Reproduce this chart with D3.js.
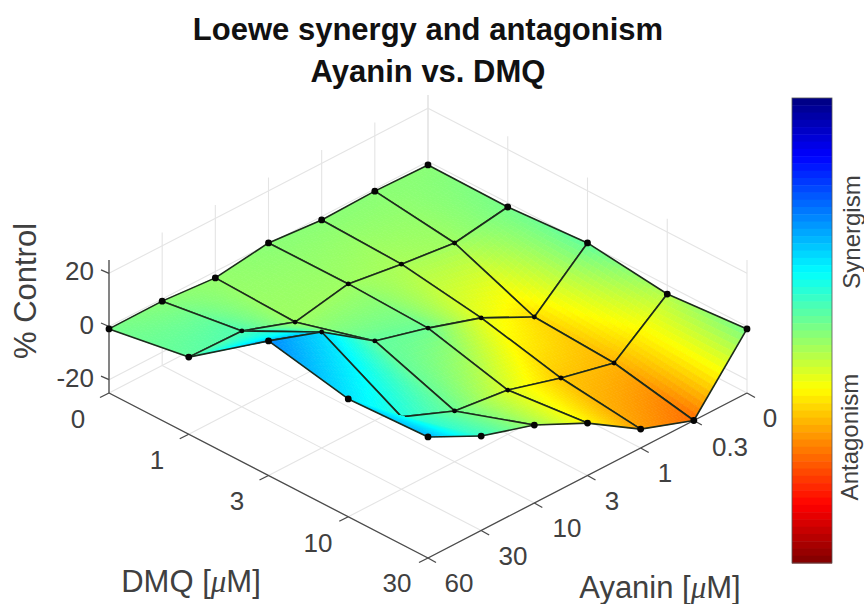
<!DOCTYPE html>
<html><head><meta charset="utf-8">
<script src="https://cdn.jsdelivr.net/npm/d3@7"></script>
<style>html,body{margin:0;padding:0;background:#fff}svg{display:block;font-family:"Liberation Sans",Arial,sans-serif}</style>
</head><body><svg id="c" width="864" height="604"></svg>
<script>
const titleLines = ["Loewe synergy and antagonism", "Ayanin vs. DMQ"];
const ayaninLabels = ["0", "0.3", "1", "3", "10", "30", "60"];
const dmqLabels = ["0", "1", "3", "10", "30"];
const zTicks = [-20, 0, 20];
const zDomain = [-25, 25];
// % Control, rows by Ayanin index, columns by DMQ index
const zRow0 = [-1.3, -1.6, 0.4, -3.3, -0.9];
const zRow1 = [-0.8, -4.8, -17.1, -18.9, -25];
const zRow2 = [-1.3, -2.4, -7.1, -14.2, -17.9];
const zRow3 = [0.4, 0.5, -0.6, -8.4, -5.3];
const zRow4 = [-2.4, -3.5, 4.9, -5.9, 4.3];
const zRow5 = [-0.8, 3.5, 18.6, 2.2, 10.5];
const zRow6 = [-0.9, 4, 25.6, 19.3, 20.5];
// synergy (+) / antagonism (-) shown by colour
const cRow0 = [-1, 1, 3, -5, 1];
const cRow1 = [-1, -3, -16, -20, -27];
const cRow2 = [-1, -4, -10, -18, -22];
const cRow3 = [-1, -3, 2, -9, -13];
const cRow4 = [-2, -3, 3, 2, -3];
const cRow5 = [-1, 5, 16, 9, 7];
const cRow6 = [1, 3, 24, 15, 20];
const Z = [zRow0, zRow1, zRow2, zRow3, zRow4, zRow5, zRow6];
const C = [cRow0, cRow1, cRow2, cRow3, cRow4, cRow5, cRow6];

const svg = d3.select("#c");
const nA = ayaninLabels.length, nD = dmqLabels.length;
const xD = d3.scaleLinear().domain([0, nD - 1]).range([0, 319]);
const xA = d3.scaleLinear().domain([0, nA - 1]).range([0, -319]);
const yD = d3.scaleLinear().domain([0, nD - 1]).range([0, 165]);
const yA = d3.scaleLinear().domain([0, nA - 1]).range([0, 165]);
const yZ = d3.scaleLinear().domain(zDomain).range([0, -133]);
const X0 = 428, Y0 = 228;
const proj = (a, d, z) => [X0 + xA(a) + xD(d), Y0 + yA(a) + yD(d) + yZ(z)];
const jetT = d3.scaleLinear().domain([-50, 50]).range([1, 0]);
const cl = v => Math.max(0, Math.min(1, v));
const jet = t => d3.rgb(255 * cl(1.5 - Math.abs(4 * t - 3)), 255 * cl(1.5 - Math.abs(4 * t - 2)), 255 * cl(1.5 - Math.abs(4 * t - 1))).formatHex();
const line = d3.line();
const gridCol = "#e4e4e4", axisCol = "#4a4a4a", textCol = "#404040";

// grid
const gGrid = svg.append("g").attr("fill", "none").attr("stroke", gridCol).attr("stroke-width", 1.1);
const seg = (g, p, q) => g.append("path").attr("d", line([p, q]));
const zb = zDomain[0], zt = zDomain[1];
d3.range(nA).forEach(a => { seg(gGrid, proj(a, 0, zb), proj(a, nD - 1, zb)); seg(gGrid, proj(a, 0, zb), proj(a, 0, zt)); });
d3.range(nD).forEach(d => { seg(gGrid, proj(0, d, zb), proj(nA - 1, d, zb)); seg(gGrid, proj(0, d, zb), proj(0, d, zt)); });
zTicks.forEach(z => { seg(gGrid, proj(0, 0, z), proj(nA - 1, 0, z)); seg(gGrid, proj(0, 0, z), proj(0, nD - 1, z)); });

// axes
const gAxis = svg.append("g").attr("fill", "none").attr("stroke", axisCol).attr("stroke-width", 1.3);
seg(gAxis, proj(nA - 1, 0, zb), proj(nA - 1, nD - 1, zb));
seg(gAxis, proj(nA - 1, nD - 1, zb), proj(0, nD - 1, zb));
seg(gAxis, proj(nA - 1, 0, zb), proj(nA - 1, 0, zt));
d3.range(nD).forEach(d => { const p = proj(nA - 1, d, zb); seg(gAxis, p, [p[0] - 9, p[1] + 4.5]); });
d3.range(nA).forEach(a => { const p = proj(a, nD - 1, zb); seg(gAxis, p, [p[0] + 8, p[1] + 4.5]); });
zTicks.forEach(z => { const p = proj(nA - 1, 0, z); seg(gAxis, p, [p[0] - 8, p[1] - 3.5]); });

// surface, painted back to front
const N = 16;
const gS = svg.append("g");
const bil = (M, a, d, u, v) => (1 - u) * (1 - v) * M[a][d] + u * (1 - v) * M[a + 1][d] + (1 - u) * v * M[a][d + 1] + u * v * M[a + 1][d + 1];
const foldCell = [5, 3];
const cells = [];
for (let a = 0; a < nA - 1; a++) for (let d = 0; d < nD - 1; d++) cells.push([a, d]);
cells.sort((p, q) => (p[0] + p[1]) - (q[0] + q[1]));
const isFoldEdge = (a1, d1, a2, d2) =>
  (a1 === foldCell[0] && a2 === foldCell[0] && d1 === foldCell[1] && d2 === foldCell[1] + 1) ||
  (d1 === foldCell[1] && d2 === foldCell[1] && a1 === foldCell[0] && a2 === foldCell[0] + 1);
cells.forEach(([a, d]) => {
  const pt = (u, v) => [X0 + xA(a + u) + xD(d + v), Y0 + yA(a + u) + yD(d + v) + yZ(bil(Z, a, d, u, v))];
  for (let s = 0; s < 2 * N - 1; s++) for (let i = 0; i < N; i++) {
    const j = s - i; if (j < 0 || j >= N) continue;
    const u0 = i / N, u1 = (i + 1) / N, v0 = j / N, v1 = (j + 1) / N;
    const col = jet(jetT(bil(C, a, d, (u0 + u1) / 2, (v0 + v1) / 2)));
    gS.append("path").attr("d", line([pt(u0, v0), pt(u1, v0), pt(u1, v1), pt(u0, v1)]) + "Z")
      .attr("fill", col).attr("stroke", col).attr("stroke-width", 0.7);
  }
  [[a, d, a + 1, d], [a, d, a, d + 1], [a + 1, d, a + 1, d + 1], [a, d + 1, a + 1, d + 1]].forEach(([a1, d1, a2, d2]) => {
    if (isFoldEdge(a1, d1, a2, d2)) return;
    gS.append("path").attr("d", line([proj(a1, d1, Z[a1][d1]), proj(a2, d2, Z[a2][d2])]))
      .attr("fill", "none").attr("stroke", "#1c2a1c").attr("stroke-width", 1.6);
  });
});
// markers
for (let a = 0; a < nA; a++) for (let d = 0; d < nD; d++) {
  if (a === foldCell[0] && d === foldCell[1]) continue;
  const edge = a === 0 || d === 0 || a === nA - 1 || d === nD - 1;
  const p = proj(a, d, Z[a][d]);
  gS.append("circle").attr("cx", p[0]).attr("cy", p[1]).attr("r", edge ? 3.4 : 2.4).attr("fill", "#050505");
}

// colour bar
const nBar = 64;
const barY = d3.scaleBand().domain(d3.range(nBar)).range([98, 563]);
const gBar = svg.append("g");
d3.range(nBar).forEach(i => gBar.append("rect").attr("x", 792).attr("width", 40).attr("y", barY(i)).attr("height", barY.bandwidth() + 0.5)
  .attr("fill", jet((i + 0.5) / nBar)));
gBar.append("rect").attr("x", 792).attr("y", 98).attr("width", 40).attr("height", 465).attr("fill", "none").attr("stroke", "#555").attr("stroke-width", 0.8);

// text
const txt = (x, y, s, size, opt = {}) => svg.append("text").attr("x", x).attr("y", y).text(s)
  .attr("font-size", size).attr("fill", opt.fill || textCol).attr("text-anchor", opt.anchor || "middle")
  .attr("font-weight", opt.weight || "normal").attr("dominant-baseline", "central")
  .attr("transform", opt.rot ? `rotate(${opt.rot} ${x} ${y})` : null);
txt(428, 29, titleLines[0], 31, { fill: "#111", weight: "bold" });
txt(428, 71, titleLines[1], 31, { fill: "#111", weight: "bold" });
zTicks.forEach(z => { const p = proj(nA - 1, 0, z); txt(94, p[1] - 2, String(z), 26, { anchor: "end" }); });
const dmqLabelX = [78, 157, 237, 318, 397], dmqLabelY = [419, 460, 501, 543, 583];
dmqLabels.forEach((s, i) => txt(dmqLabelX[i], dmqLabelY[i], s, 26));
const ayLabelX = [770, 730, 665, 612, 567, 513, 459], ayLabelY = [418, 447, 473, 501, 528, 556, 583];
ayaninLabels.forEach((s, i) => txt(ayLabelX[i], ayLabelY[i], s, 26));
const mu = (x, y, pre, size) => {
  const t = txt(x, y, null, size);
  t.append("tspan").text(pre + " [");
  t.append("tspan").text("\u03bc").attr("font-style", "italic").attr("font-family", "'Liberation Serif',serif");
  t.append("tspan").text("M]");
};
mu(191, 581, "DMQ", 31);
mu(660, 587, "Ayanin", 31);
txt(25, 291, "% Control", 31, { rot: -90 });
txt(851, 232, "Synergism", 24, { rot: -90 });
txt(849, 437, "Antagonism", 24, { rot: -90 });
</script></body></html>
